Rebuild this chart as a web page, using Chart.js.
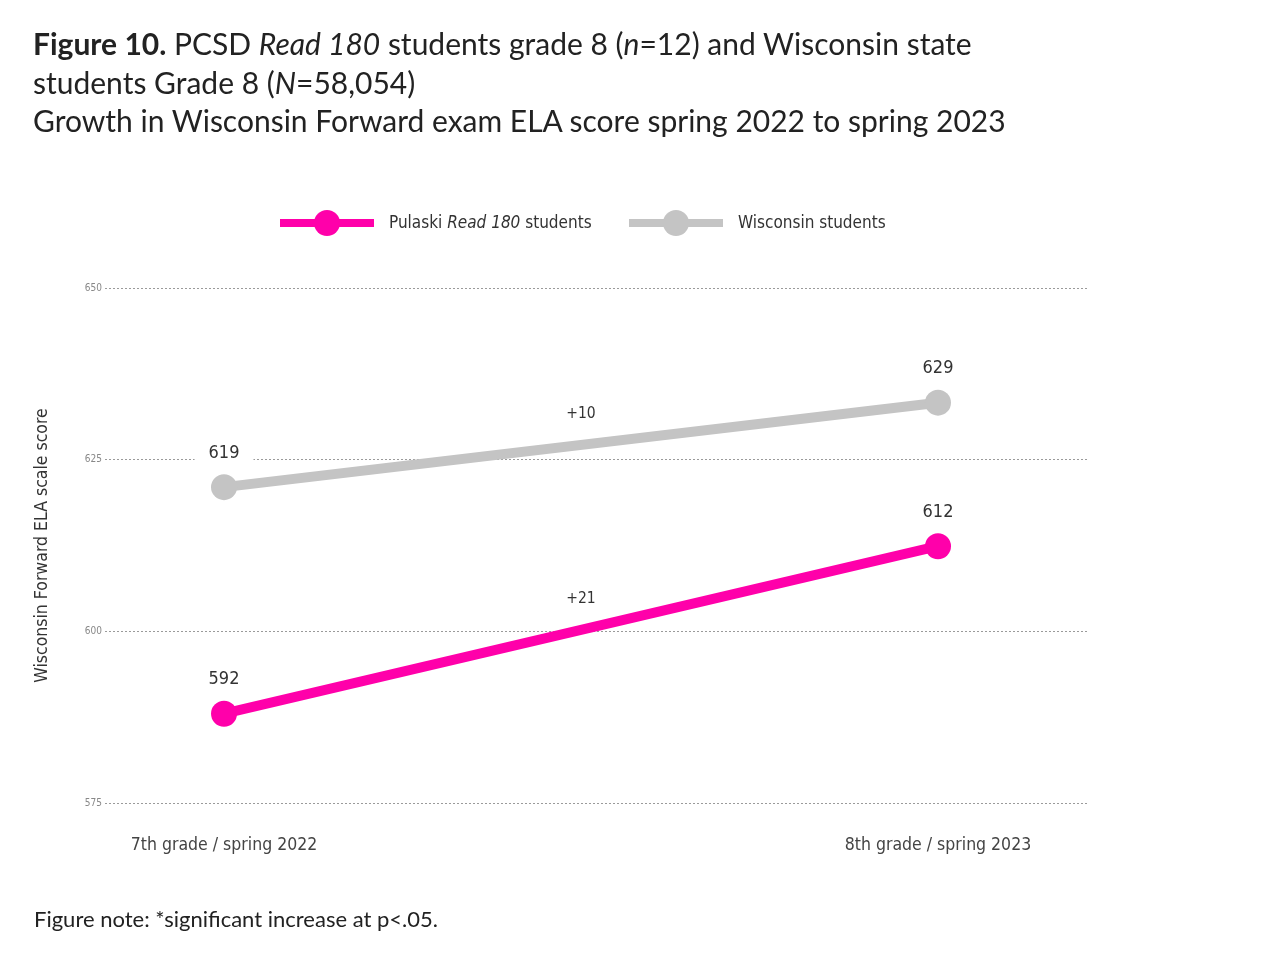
<!DOCTYPE html>
<html>
<head>
<meta charset="utf-8">
<script src="https://cdn.jsdelivr.net/npm/chart.js@4.4.0/dist/chart.umd.min.js"></script>
<style>
  html, body { margin:0; padding:0; background:#fff; width:1280px; height:978px; overflow:hidden; }
  #wrap { position:absolute; left:0; top:0; width:1280px; height:978px; }
  .title { position:absolute; left:33px; top:24px; font-family:Lato, 'Open Sans', sans-serif; font-size:30px; line-height:38.5px; color:#222; }
  .legend { position:absolute; top:208px; left:0; width:1280px; height:30px; font-family:'DejaVu Sans Condensed',Roboto,sans-serif; font-size:17px; color:#333; }
  .li { position:absolute; top:0; height:30px; }
  .li .ln { position:absolute; top:11px; height:8px; width:94px; left:0; }
  .li .dot { position:absolute; top:2px; left:34px; width:26px; height:26px; border-radius:50%; }
  .li .tx { position:absolute; left:109px; top:4px; white-space:nowrap; }
  .note { position:absolute; left:34px; top:905px; font-family:Lato,'Open Sans',sans-serif; font-size:22px; color:#222; }
</style>
</head>
<body>
<div id="wrap"><canvas id="c" width="1280" height="978"></canvas></div>
<div class="title"><b>Figure 10.</b> PCSD <i>Read 180</i> students grade 8 (<i>n</i>=12) and Wisconsin state<br>students Grade 8 (<i>N</i>=58,054)<br>Growth in Wisconsin Forward exam ELA score spring 2022 to spring 2023</div>
<div class="legend">
  <div class="li" style="left:280px"><div class="ln" style="background:#ff00aa"></div><div class="dot" style="background:#ff00aa"></div><div class="tx">Pulaski <i>Read 180</i> students</div></div>
  <div class="li" style="left:629px"><div class="ln" style="background:#c4c4c4"></div><div class="dot" style="background:#c4c4c4"></div><div class="tx">Wisconsin students</div></div>
</div>
<div class="note">Figure note: *significant increase at p&lt;.05.</div>
<script>
const categories = ["7th grade / spring 2022", "8th grade / spring 2023"];
const seriesNames = ["Pulaski Read 180 students", "Wisconsin students"];
const pulaskiValues = [588, 612.4];
const wisconsinValues = [621, 633.3];
const pulaskiLabels = ["592", "612"];
const wisconsinLabels = ["619", "629"];
const growthLabels = ["+21", "+10"];
const yTicks = [575, 600, 625, 650];

const chartFont = "'DejaVu Sans Condensed',Roboto,sans-serif";

const toPts = vals => vals.map((v, i) => ({ x: i, y: v }));

const labelPlugin = {
  id: 'valueLabels',
  afterDatasetsDraw(chart) {
    const ctx = chart.ctx;
    const sets = [pulaskiLabels, wisconsinLabels];
    ctx.save();
    ctx.textAlign = 'center';
    ctx.textBaseline = 'middle';
    chart.data.datasets.forEach((ds, di) => {
      const meta = chart.getDatasetMeta(di);
      meta.data.forEach((pt, i) => {
        ctx.font = '18px ' + chartFont;
        const t = sets[di][i];
        const w = ctx.measureText(t).width;
        const y = pt.y - 34;
        ctx.fillStyle = '#fff';
        ctx.fillRect(pt.x - w/2 - 14, y - 12, w + 28, 24);
        ctx.fillStyle = '#333';
        ctx.fillText(t, pt.x, y);
      });
      const a = meta.data[0], b = meta.data[1];
      ctx.font = '15.5px ' + chartFont;
      ctx.fillStyle = '#333';
      ctx.fillText(growthLabels[di], (a.x + b.x) / 2, (a.y + b.y) / 2 - 31);
    });
    ctx.restore();
  }
};

new Chart(document.getElementById('c'), {
  type: 'line',
  data: {
    datasets: [
      { label: seriesNames[0], data: toPts(pulaskiValues), borderColor: '#ff00aa', backgroundColor: '#ff00aa',
        borderWidth: 10, pointRadius: 13, pointHoverRadius: 13, pointBorderWidth: 0 },
      { label: seriesNames[1], data: toPts(wisconsinValues), borderColor: '#c4c4c4', backgroundColor: '#c4c4c4',
        borderWidth: 10, pointRadius: 13, pointHoverRadius: 13, pointBorderWidth: 0 }
    ]
  },
  options: {
    responsive: false,
    animation: false,
    events: [],
    layout: { padding: { left: 30, right: 193, top: 288, bottom: 0 } },
    plugins: { legend: { display: false }, tooltip: { enabled: false } },
    scales: {
      x: {
        type: 'linear',
        min: -0.1667, max: 1.2087,
        afterBuildTicks: s => { s.ticks = [{ value: 0 }, { value: 1 }]; },
        afterFit: s => { s.height = 175; },
        grid: { display: false, drawTicks: false },
        border: { display: false },
        ticks: { padding: 32, color: '#444', font: { family: chartFont, size: 17.5 },
                 callback: v => categories[v] }
      },
      y: {
        min: 575, max: 650,
        afterBuildTicks: s => { s.ticks = yTicks.map(v => ({ value: v })); },
        afterFit: s => { s.width = 75; },
        grid: { color: '#9a9a9a', lineWidth: 1, drawTicks: false },
        border: { display: false, dash: [2, 2] },
        ticks: { padding: 3, color: '#888', font: { family: chartFont, size: 10 } },
        title: { display: true, text: 'Wisconsin Forward ELA scale score', color: '#333',
                 font: { family: chartFont, size: 17.5 }, padding: { top: 2, bottom: 0 } }
      }
    }
  },
  plugins: [labelPlugin]
});
</script>
</body>
</html>
